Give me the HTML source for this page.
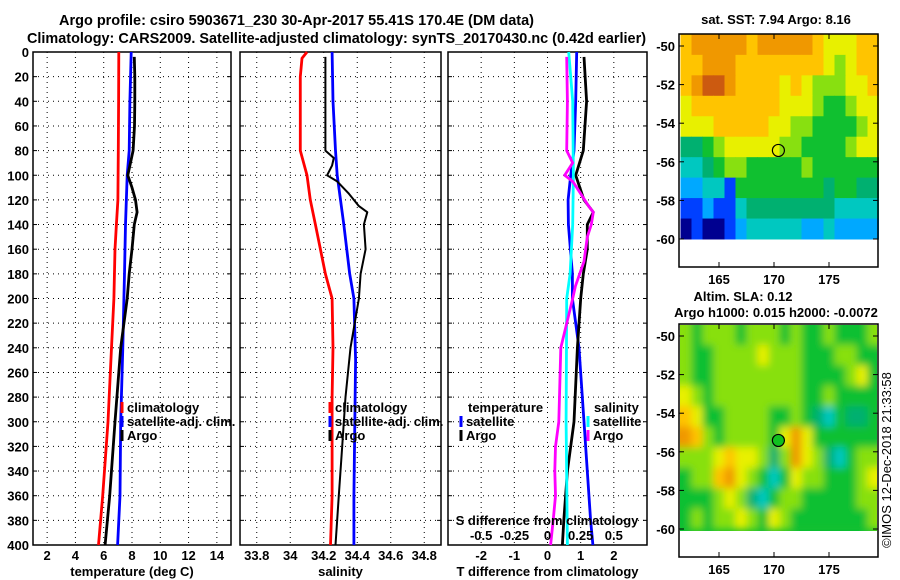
<!DOCTYPE html>
<html><head><meta charset="utf-8"><style>
html,body{margin:0;padding:0;background:#fff;}
svg{display:block;font-family:"Liberation Sans",Arial,sans-serif;font-weight:bold;}
</style></head><body>
<svg id="fig" width="900" height="580" viewBox="0 0 900 580" xmlns="http://www.w3.org/2000/svg">
<defs>
<filter id="blur" x="-5%" y="-5%" width="110%" height="110%"><feGaussianBlur stdDeviation="4"/></filter>
<clipPath id="clip2"><rect x="680" y="325" width="197" height="206"/></clipPath>
</defs>
<text x="59" y="25" font-size="15" textLength="475" lengthAdjust="spacingAndGlyphs">Argo profile: csiro 5903671_230 30-Apr-2017 55.41S 170.4E (DM data)</text>
<text x="27" y="43" font-size="15" textLength="619" lengthAdjust="spacingAndGlyphs">Climatology: CARS2009. Satellite-adjusted climatology: synTS_20170430.nc (0.42d earlier)</text>
<g id="plots"></g>
<g id="maps"></g>
<text transform="translate(891,460) rotate(-90)" font-size="13" font-weight="normal" text-anchor="middle">©IMOS 12-Dec-2018 21:33:58</text>
</svg>
<script>
// ---- profile data ----
const depthTicks = [0,20,40,60,80,100,120,140,160,180,200,220,240,260,280,300,320,340,360,380,400];
const tempTicks = [2,4,6,8,10,12,14];
const salTicks = [33.8,34,34.2,34.4,34.6,34.8];
const tdiffTicks = [-2,-1,0,1,2];
const sdiffTicks = [-0.5,-0.25,0,0.25,0.5];

const climTempDepth = [0,40,80,120,140,160,200,240,300,360,400];
const climTempVals  = [7.07,7.05,7.03,7.0,6.9,6.8,6.72,6.55,6.3,5.93,5.63];
const satTempDepth = [0,40,80,100,140,180,200,240,300,360,400];
const satTempVals  = [7.94,7.85,7.8,7.66,7.54,7.47,7.43,7.35,7.2,7.15,6.98];
const argoTempDepth = [4,20,40,60,80,100,110,120,130,140,160,180,200,240,300,360,400];
const argoTempVals  = [8.16,8.2,8.2,8.18,8.08,7.7,8.0,8.25,8.36,8.16,8.0,7.8,7.66,7.2,6.8,6.42,6.1];

const climSalDepth = [0,5,20,80,100,120,140,160,180,200,240,280,360,400];
const climSalVals  = [34.10,34.07,34.06,34.06,34.10,34.12,34.15,34.18,34.21,34.25,34.255,34.25,34.25,34.24];
const satSalDepth = [0,40,80,100,140,180,200,250,360,400];
const satSalVals  = [34.25,34.255,34.27,34.28,34.32,34.355,34.38,34.39,34.38,34.38];
const argoSalDepth = [4,80,86,92,100,105,115,125,130,140,160,180,200,240,280,320,360,400];
const argoSalVals  = [34.21,34.21,34.26,34.25,34.22,34.28,34.35,34.41,34.46,34.44,34.45,34.42,34.41,34.36,34.33,34.31,34.29,34.27];

const tSatDiffDepth = [0,40,80,100,120,140,180,200,240,300,340,380,400];
const tSatDiffVals  = [0.88,0.85,0.8,0.7,0.62,0.63,0.75,0.75,0.95,1.1,1.2,1.3,1.37];
const tArgoDiffDepth = [4,40,80,100,120,130,140,160,180,200,240,300,340,380,400];
const tArgoDiffVals  = [1.1,1.18,1.08,0.85,1.1,1.38,1.2,1.2,1.08,1.0,0.9,0.8,0.6,0.49,0.45];
const sSatDiffDepth = [0,40,100,140,180,200,300,400];
const sSatDiffVals  = [0.16,0.19,0.195,0.19,0.17,0.145,0.14,0.15];
const sArgoDiffDepth = [4,40,80,90,100,105,115,125,130,140,150,170,190,200,240,300,320,340,360,380,400];
const sArgoDiffVals  = [0.145,0.15,0.145,0.19,0.13,0.19,0.25,0.31,0.345,0.33,0.3,0.275,0.21,0.19,0.1,0.085,0.06,0.055,0.06,0.043,0.023];

// ---- map data (colour class 0..10 per 1deg x ~1.06deg cell) ----
const sstGrid = [
[8,9,9,9,9,9,8,9,9,9,9,9,8,7,7,7,8,8],
[8,8,9,9,9,8,8,8,8,8,8,8,8,7,6,7,8,8],
[8,9,10,10,9,8,8,8,8,7,8,7,6,6,6,7,7,8],
[7,8,8,8,8,8,8,8,8,7,7,7,6,5,5,6,7,7],
[7,7,7,8,8,8,8,8,7,7,6,6,5,5,5,5,6,7],
[4,4,5,6,7,7,7,7,7,6,6,5,5,5,5,6,7,7],
[3,3,4,5,6,6,5,5,5,5,5,6,5,5,5,5,5,5],
[2,2,3,3,1,5,5,5,5,5,5,5,5,4,5,5,4,4],
[1,1,2,1,1,3,4,4,4,4,4,4,4,4,3,3,3,3],
[0,1,0,0,1,2,3,3,3,3,3,2,2,3,2,2,2,2]];
const slaGrid = [
[6,5,6,6,6,5,6,6,6,5,6,5,5,6,5,5,5,6],
[6,5,5,6,6,6,6,7,6,6,6,5,5,5,6,6,5,5],
[6,5,5,6,6,6,6,6,6,6,6,5,5,5,5,6,7,5],
[7,6,5,6,6,6,6,6,6,6,6,5,5,6,5,5,5,5],
[8,7,5,5,6,6,6,6,5,5,6,5,4,3,5,4,4,5],
[9,8,6,5,6,6,6,6,5,7,9,7,5,5,5,5,5,5],
[6,6,6,7,8,7,7,6,4,6,9,7,6,4,3,5,6,6],
[5,6,6,8,9,7,6,5,3,5,7,6,6,5,5,5,6,7],
[5,5,5,6,7,6,4,3,5,6,6,5,5,5,5,5,6,6],
[5,6,5,6,6,7,6,5,7,6,5,5,5,5,5,5,5,6]];
const lonTicks = [165,170,175];
const latTicks = [-50,-52,-54,-56,-58,-60];
const argoLon = 170.4, argoLat = -55.41;
const palette = ['#000090','#0040ff','#00a8ff','#00c8c0','#00b070','#10c030','#88e010','#e8f000','#ffc400','#f09800','#cc5a10'];

const NS='http://www.w3.org/2000/svg';
function mk(tag, attrs, parent, txt){const e=document.createElementNS(NS,tag);for(const k in attrs)e.setAttribute(k,attrs[k]);if(txt!==undefined)e.textContent=txt;parent.appendChild(e);return e;}
const plots=document.getElementById('plots');
const Y0=52, Y1=545;
const yOf=d=>Y0+(d/400)*(Y1-Y0);

function panel(name,x0,x1,vmin,vmax,ticks,xtitle,showY){
  const g=mk('g',{},plots);
  
  
  const xOf=v=>x0+(v-vmin)/(vmax-vmin)*(x1-x0);
  depthTicks.forEach(d=>{if(d>0&&d<400){const l=mk('line',{x1:x0,x2:x1,y1:yOf(d),y2:yOf(d),stroke:'#000','stroke-width':1,'stroke-dasharray':'1,4'},g);}
    const t=mk('line',{x1:x0,x2:x0+4,y1:yOf(d),y2:yOf(d),stroke:'#000'},g);
    const t2=mk('line',{x1:x1-4,x2:x1,y1:yOf(d),y2:yOf(d),stroke:'#000'},g);
    if(showY){const lb=mk('text',{x:x0-4,y:yOf(d)+5,'font-size':13,'text-anchor':'end'},g,String(d));}
  });
  ticks.forEach(v=>{const x=xOf(v);
    const l=mk('line',{x1:x,x2:x,y1:Y0,y2:Y1,stroke:'#000','stroke-width':1,'stroke-dasharray':'1,4'},g);
    const lb=mk('text',{x:x,y:560,'font-size':13,'text-anchor':'middle'},g,String(v));});
  const fr=mk('rect',{x:x0,y:Y0,width:x1-x0,height:Y1-Y0,fill:'none',stroke:'#000','stroke-width':1.5},g);
  
  const xt=mk('text',{x:(x0+x1)/2,y:576,'font-size':13,'text-anchor':'middle'},g,xtitle);
  
  return {g,xOf};
}
function series(p,depths,vals,color,name,w){
  const pts=depths.map((d,i)=>p.xOf(vals[i]).toFixed(1)+','+yOf(d).toFixed(1)).join(' ');
  const pl=mk('polyline',{points:pts,fill:'none',stroke:color,'stroke-width':w||2.8,'stroke-linejoin':'round'},p.g);
  
  
}
function legendEntry(g,x,y,color,label,name){
  const l=mk('line',{x1:x,x2:x,y1:y-10,y2:y+1,stroke:color,'stroke-width':3},g);
  
  const t=mk('text',{x:x+5,y:y,'font-size':13},g,label);
  
}

const p1=panel('temperature-panel',33,231,1,15,tempTicks,'temperature (deg C)',true);
series(p1,climTempDepth,climTempVals,'#ff0000','climatology-temperature-line');
series(p1,satTempDepth,satTempVals,'#0000ff','satellite-temperature-line');
series(p1,argoTempDepth,argoTempVals,'#000000','argo-temperature-line');
legendEntry(p1.g,122,412,'#ff0000','climatology','legend-climatology');
legendEntry(p1.g,122,426,'#0000ff','satellite-adj. clim.','legend-satellite');
legendEntry(p1.g,122,440,'#000000','Argo','legend-argo');

const p2=panel('salinity-panel',240,441,33.7,34.9,salTicks,'salinity',false);
series(p2,climSalDepth,climSalVals,'#ff0000','climatology-salinity-line');
series(p2,satSalDepth,satSalVals,'#0000ff','satellite-salinity-line');
series(p2,argoSalDepth,argoSalVals,'#000000','argo-salinity-line',2);
legendEntry(p2.g,330,412,'#ff0000','climatology','legend-climatology-sal');
legendEntry(p2.g,330,426,'#0000ff','satellite-adj. clim.','legend-satellite-sal');
legendEntry(p2.g,330,440,'#000000','Argo','legend-argo-sal');

const p3=panel('difference-panel',448,647,-3,3,tdiffTicks,'T difference from climatology',false);
const p3s={g:p3.g,xOf:v=>448+(v+0.75)/1.5*199};
series(p3,tSatDiffDepth,tSatDiffVals,'#0000ff','temperature-satellite-diff-line');
series(p3,tArgoDiffDepth,tArgoDiffVals,'#000000','temperature-argo-diff-line');
series(p3s,sSatDiffDepth,sSatDiffVals,'#00ffff','salinity-satellite-diff-line');
series(p3s,sArgoDiffDepth,sArgoDiffVals,'#ff00ff','salinity-argo-diff-line');
{const t=mk('text',{x:468,y:412,'font-size':13},p3.g,'temperature');
 const s=mk('text',{x:594,y:412,'font-size':13},p3.g,'salinity');}
legendEntry(p3.g,461,426,'#0000ff','satellite','legend-temp-satellite');
legendEntry(p3.g,461,440,'#000000','Argo','legend-temp-argo');
legendEntry(p3.g,588,426,'#00ffff','satellite','legend-sal-satellite');
legendEntry(p3.g,588,440,'#ff00ff','Argo','legend-sal-argo');
{const t=mk('text',{x:547,y:525,'font-size':13,'text-anchor':'middle'},p3.g,'S difference from climatology');}
sdiffTicks.forEach(v=>{const t=mk('text',{x:p3s.xOf(v),y:540,'font-size':13,'text-anchor':'middle'},p3.g,String(v));});

// ---- maps ----
const maps=document.getElementById('maps');
function drawMap(name,top,grid,blur,title1,title2,filled){
  const g=mk('g',{},maps);
  
  
  const xL=lon=>719+(lon-165)*11;
  const yL=lat=>top+12+(-50-lat)*19.3;
  let parent=g;
  if(blur){
    parent=mk('g',{'clip-path':'url(#clip2)'},g);
    mk('rect',{x:670,y:top-10,width:220,height:230,fill:palette[5]},parent);
    parent=mk('g',{filter:'url(#blur)'},parent);
  }
  const rowH=(yL(-60)-yL(-49.4))/grid.length;
  grid.forEach((row,r)=>row.forEach((c,k)=>{
    const ext = blur ? 8 : 0;
    const x = xL(161.5+k) - (k===0?ext:0);
    const w = 11.5 + (k===0||k===row.length-1?ext:0);
    const y = yL(-49.4)+r*rowH - (r===0?ext:0);
    const h = rowH+0.5 + (r===0?ext:0);
    const rc=mk('rect',{x:x,y:y,width:w,height:h,fill:palette[c]},parent);
    
  }));
  const fr=mk('rect',{x:679,y:top,width:199,height:233,fill:'none',stroke:'#000','stroke-width':1.5},g);
  
  lonTicks.forEach(v=>{const x=xL(v);
    mk('line',{x1:x,x2:x,y1:top+233,y2:top+228,stroke:'#000'},g);
    mk('line',{x1:x,x2:x,y1:top,y2:top+5,stroke:'#000'},g);
    const t=mk('text',{x:x,y:top+250,'font-size':13,'text-anchor':'middle'},g,String(v));});
  latTicks.forEach(v=>{const y=yL(v);
    mk('line',{x1:679,x2:684,y1:y,y2:y,stroke:'#000'},g);
    mk('line',{x1:873,x2:878,y1:y,y2:y,stroke:'#000'},g);
    const t=mk('text',{x:675,y:y+5,'font-size':13,'text-anchor':'end'},g,String(v));});
  const c=mk('circle',{cx:xL(argoLon),cy:yL(argoLat),r:6,fill:filled?'#10c020':'none',stroke:'#000','stroke-width':1.2},g);
  
  if(title2){
    const a=mk('text',{x:743,y:top-23,'font-size':13,'text-anchor':'middle'},g,title1);
    const b=mk('text',{x:776,y:top-7,'font-size':13,'text-anchor':'middle'},g,title2);
  } else {
    const a=mk('text',{x:776,y:top-10,'font-size':13,'text-anchor':'middle'},g,title1);
  }
}
drawMap('sst-map',34,sstGrid,false,'sat. SST: 7.94 Argo: 8.16',null,false);
drawMap('sla-map',324,slaGrid,true,'Altim. SLA: 0.12','Argo h1000: 0.015 h2000: -0.0072',true);
</script>
</body></html>
